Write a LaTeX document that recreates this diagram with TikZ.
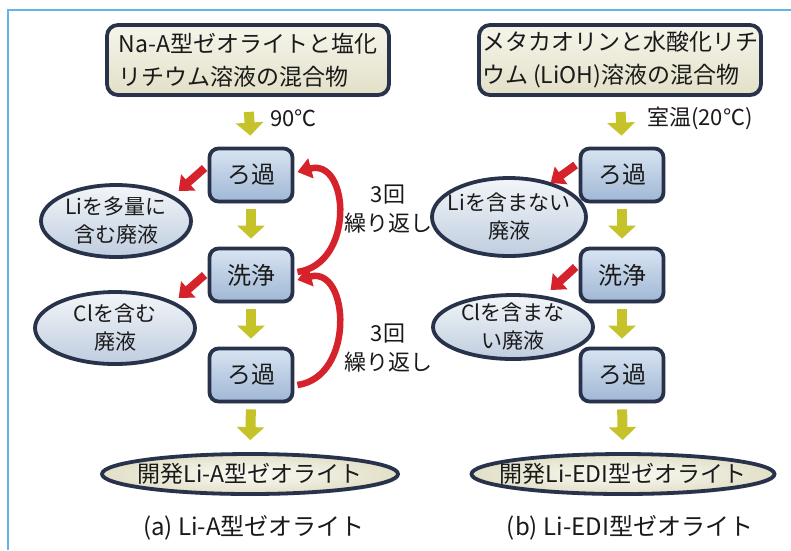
\documentclass[tikz,border=0pt]{standalone}
\usepackage{fontspec}
\setmainfont{Noto Sans CJK JP}
\usetikzlibrary{shapes.geometric,arrows.meta,shadows}
\definecolor{frameblue}{HTML}{62B6E6}
\definecolor{navy}{HTML}{28334B}
\definecolor{boxtop}{HTML}{D8E4F2}
\definecolor{boxbot}{HTML}{A0B7D5}
\definecolor{creamtop}{HTML}{F6F5EA}
\definecolor{creambot}{HTML}{E2E0C8}
\definecolor{elltop}{HTML}{F3F6F9}
\definecolor{ellbot}{HTML}{BFCDDF}
\definecolor{yel}{HTML}{C6C22A}
\definecolor{redc}{HTML}{D6222B}
\definecolor{txt}{HTML}{1A1A1A}
\begin{document}
\begin{tikzpicture}[x=1pt,y=-1pt,
  every node/.style={text=txt},
  shadowed/.style={drop shadow={opacity=0.25,shadow xshift=1.5pt,shadow yshift=-2pt}},
  topbox/.style={shadowed,draw=navy,line width=3.8pt,rounded corners=11pt,top color=creamtop,bottom color=creambot,
    minimum width=282pt,minimum height=70pt,inner sep=0pt,align=left,font=\fontsize{23}{33}\selectfont},
  procbox/.style={shadowed,draw=navy,line width=3.8pt,rounded corners=9pt,top color=boxtop,bottom color=boxbot,
    minimum width=83pt,minimum height=53pt,inner sep=0pt,font=\fontsize{24}{28}\selectfont},
  wasteell/.style={shadowed,ellipse,draw=navy,line width=3.8pt,top color=elltop,bottom color=ellbot,
    inner xsep=-12pt,inner ysep=-8pt,align=center,font=\fontsize{21}{28}\selectfont},
  prodell/.style={shadowed,ellipse,draw=navy,line width=3.8pt,inner color=creamtop!50!white,outer color=creambot,
    minimum height=40pt,inner xsep=-45pt,inner ysep=-8pt,font=\fontsize{23}{28}\selectfont},
  yarrow/.style={draw=yel,line width=10pt,-{Triangle[width=27pt,length=13pt]}},
  rarrow/.style={draw=redc,line width=8pt,-{Triangle[width=21pt,length=13pt]}},
  rcurve/.style={draw=redc,line width=6.5pt,-{Triangle[width=20pt,length=14pt]}},
  lbl/.style={inner sep=0pt,align=center,font=\fontsize{22}{29}\selectfont},
  caption/.style={inner sep=0pt,font=\fontsize{24}{28}\selectfont}
]
\useasboundingbox (0,0) rectangle (791,550);
\fill[white] (0,0) rectangle (791,550);
\draw[frameblue,line width=1.5pt] (8,550) -- (8,10) -- (791,10);

% ---------- (a) ----------
\node[topbox] (topA) at (248,60) {Na-A型ゼオライトと塩化\\リチウム溶液の混合物};
\node[procbox] (rA1) at (251,175) {ろ過};
\node[procbox] (wA)  at (251,275) {洗浄};
\node[procbox] (rA2) at (251,375) {ろ過};
\node[wasteell,minimum width=150pt,minimum height=72pt] (eA1) at (116,221) {Liを多量に\\含む廃液};
\node[wasteell,minimum width=160pt,minimum height=72pt] (eA2) at (115,328) {Clを含む\\廃液};
\node[prodell,minimum width=296pt] (fA) at (250,474) {開発Li-A型ゼオライト};
\node[caption] (cA) at (254,528) {(a) Li-A型ゼオライト};
\node[lbl,anchor=west] (tA) at (270,118) {90℃};
\node[lbl] (nA1) at (388,209) {3回\\繰り返し};
\node[lbl] (nA2) at (388,348) {3回\\繰り返し};

\draw[yarrow,shorten <=15pt,shorten >=11pt] (topA.south) -- (rA1.north);
\draw[yarrow,shorten <=6pt,shorten >=8pt] (rA1.south) -- (wA.north);
\draw[yarrow,shorten <=6pt,shorten >=8pt] (wA.south) -- (rA2.north);
\draw[yarrow,shorten <=6pt,shorten >=12pt] (rA2.south) -- (fA.north);

\coordinate (a1s) at ([shift={(-3,-7)}]rA1.west);
\coordinate (a1e) at ([shift={(-29,16)}]rA1.west);
\draw[rarrow] (a1s) -- (a1e);
\coordinate (a2s) at ([shift={(-3,0)}]wA.west);
\coordinate (a2e) at ([shift={(-29,23)}]wA.west);
\draw[rarrow] (a2s) -- (a2e);

\draw[rcurve] ([shift={(3,-3)}]wA.east) .. controls +(58,-8) and +(52,-14) .. ([shift={(3,-3)}]rA1.east);
\draw[rcurve] ([shift={(3,10)}]rA2.east) .. controls +(58,-8) and +(52,-14) .. ([shift={(3,5)}]wA.east);

% ---------- (b) ----------
\node[topbox] (topB) at (620,60) {メタカオリンと水酸化リチ\\ウム (LiOH)溶液の混合物};
\node[procbox] (rB1) at (622,175) {ろ過};
\node[procbox] (wB)  at (622,275) {洗浄};
\node[procbox] (rB2) at (622,375) {ろ過};
\node[wasteell,minimum width=154pt,minimum height=78pt] (eB1) at (509,217) {Liを含まない\\廃液};
\node[wasteell,minimum width=160pt,minimum height=64pt] (eB2) at (513,327) {Clを含まな\\い廃液};
\node[prodell,minimum width=303pt] (fB) at (623,474) {開発Li-EDI型ゼオライト};
\node[caption] (cB) at (630,528) {(b) Li-EDI型ゼオライト};
\node[lbl,anchor=west] (tB) at (647,118) {室温(20℃)};

\draw[yarrow,shorten <=15pt,shorten >=11pt] (topB.south) -- (rB1.north);
\draw[yarrow,shorten <=6pt,shorten >=8pt] (rB1.south) -- (wB.north);
\draw[yarrow,shorten <=6pt,shorten >=8pt] (wB.south) -- (rB2.north);
\draw[yarrow,shorten <=6pt,shorten >=12pt] (rB2.south) -- (fB.north);

\coordinate (b1s) at ([shift={(-3,-10)}]rB1.west);
\coordinate (b1e) at ([shift={(-28,8)}]rB1.west);
\draw[rarrow] (b1s) -- (b1e);
\coordinate (b2s) at ([shift={(-3,-8)}]wB.west);
\coordinate (b2e) at ([shift={(-28,15)}]wB.west);
\draw[rarrow] (b2s) -- (b2e);
\end{tikzpicture}
\end{document}
